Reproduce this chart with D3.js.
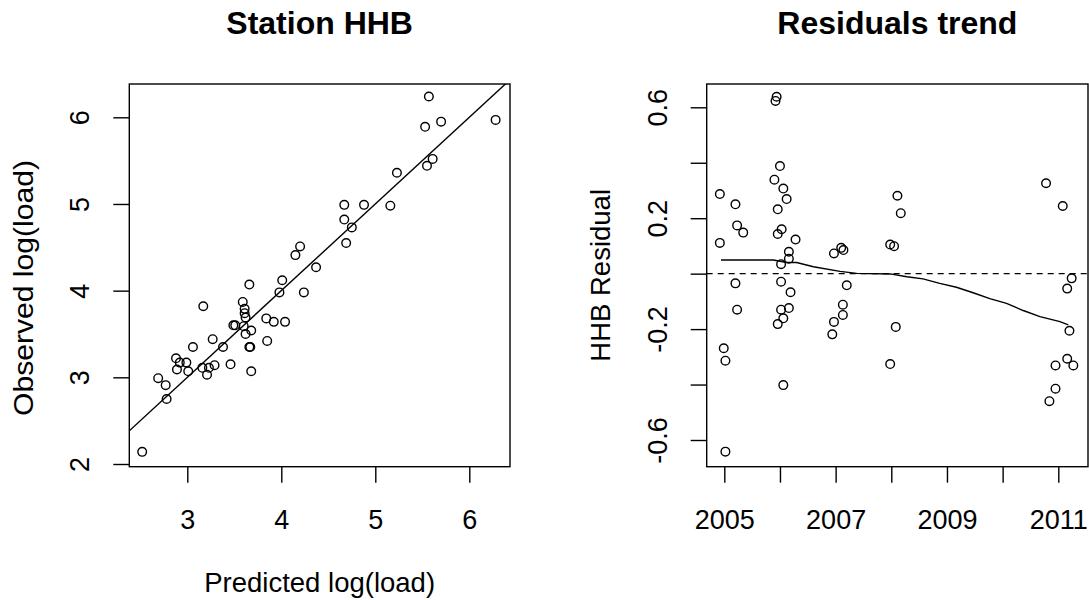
<!DOCTYPE html>
<html>
<head>
<meta charset="utf-8">
<script src="https://cdn.jsdelivr.net/npm/d3@7"></script>
<style>
  body { margin: 0; background: #fff; }
  svg text { font-family: "Liberation Sans", Arial, sans-serif; fill: #000; }
</style>
</head>
<body>
<svg id="chart" width="1089" height="600"></svg>
<script>
// Left panel: predicted vs observed log(load)
const predicted = [2.52, 2.69, 2.77, 2.78, 2.88, 2.92, 2.99, 2.89, 3.01, 3.06,
    3.16, 3.21, 3.23, 3.29, 3.17, 3.27, 3.38, 3.46, 3.49, 3.51,
    3.59, 3.61, 3.61, 3.62, 3.60, 3.62, 3.68, 3.66, 3.67, 3.68,
    3.66, 3.84, 3.92, 4.04, 3.85, 3.98, 4.01, 4.24, 4.15, 4.20,
    4.37, 4.67, 4.67, 4.69, 4.75, 4.88, 5.16, 5.23, 5.55, 5.61,
    5.53, 5.57, 5.70, 6.28];
const observed = [2.14, 2.99, 2.91, 2.75, 3.22, 3.17, 3.17, 3.09, 3.07, 3.35,
    3.11, 3.03, 3.11, 3.14, 3.82, 3.44, 3.35, 3.15, 3.60, 3.60,
    3.87, 3.79, 3.74, 3.69, 3.59, 3.50, 3.54, 3.35, 3.35, 3.07,
    4.07, 3.68, 3.64, 3.64, 3.42, 3.98, 4.12, 3.98, 4.41, 4.51,
    4.27, 4.99, 4.82, 4.55, 4.73, 4.99, 4.98, 5.36, 5.44, 5.52,
    5.89, 6.24, 5.95, 5.97];
const leftTicksX = [3, 4, 5, 6];
const leftTicksY = [2, 3, 4, 5, 6];

// Right panel: residuals by decimal year
const resYear = [2004.92, 2004.92, 2004.99, 2005.02, 2005.02, 2005.20, 2005.23, 2005.34, 2005.20, 2005.23,
    2005.90, 2005.94, 2005.92, 2006.00, 2006.06, 2006.12, 2005.96, 2006.03, 2005.96, 2006.28,
    2006.16, 2006.16, 2006.02, 2006.02, 2006.19, 2006.02, 2006.16, 2006.06, 2005.96, 2006.06,
    2006.97, 2007.10, 2007.14, 2007.20, 2007.13, 2007.13, 2006.97, 2006.94,
    2007.98, 2008.05, 2008.11, 2008.17, 2008.08, 2007.98,
    2010.78, 2011.08, 2011.24, 2011.16, 2011.20, 2011.16, 2011.27, 2010.95, 2010.95, 2010.84];
const resValue = [0.287, 0.111, -0.269, -0.314, -0.642, 0.250, 0.174, 0.148, -0.035, -0.130,
    0.339, 0.638, 0.623, 0.388, 0.307, 0.269, 0.232, 0.160, 0.143, 0.123,
    0.079, 0.054, 0.034, -0.029, -0.067, -0.130, -0.124, -0.161, -0.182, -0.402,
    0.073, 0.093, 0.085, -0.042, -0.112, -0.149, -0.174, -0.219,
    0.105, 0.099, 0.281, 0.218, -0.192, -0.326,
    0.326, 0.244, -0.017, -0.054, -0.206, -0.307, -0.331, -0.331, -0.415, -0.460];
// smooth trend line
const trendYear = [2004.94, 2005.88, 2006.12, 2006.30, 2006.60, 2007.08, 2007.38, 2007.98, 2008.28,
    2008.57, 2008.87, 2009.17, 2009.47, 2009.77, 2010.07, 2010.37, 2010.67, 2011.03, 2011.18];
const trendValue = [0.049, 0.049, 0.040, 0.040, 0.025, 0.008, 0.001, -0.001, -0.011,
    -0.019, -0.035, -0.049, -0.069, -0.090, -0.107, -0.133, -0.155, -0.173, -0.185];
const rightTicksX = [2005, 2006, 2007, 2008, 2009, 2010, 2011];
const rightLabelsX = [2005, 2007, 2009, 2011];
const rightTicksY = [-0.6, -0.4, -0.2, 0, 0.2, 0.4, 0.6];
const rightLabelsY = [-0.6, -0.2, 0.2, 0.6];

const svg = d3.select("#chart");
const lw = 1.4;
const tickFont = "27px";
const pointR = 4.3;

// plot boxes (pixel layout)
const leftBox = { x0: 129.3, x1: 510, y0: 84, y1: 466.7 };
const rightBox = { x0: 706.7, x1: 1088, y0: 84, y1: 466.7 };

// scales
const xL = d3.scaleLinear().domain([3, 6]).range([187.3, 469.3]);
const yL = d3.scaleLinear().domain([6, 2]).range([117.3, 464]);
const xR = d3.scaleLinear().domain([2005, 2011]).range([724.3, 1058.3]);
const yR = d3.scaleLinear().domain([0.6, -0.6]).range([107.3, 440]);

// R prints a plain hyphen for negatives
const fmtInt = d => String(d);
const fmtOne = d => d.toFixed(1);

function drawBox(b, id) {
    svg.append("clipPath").attr("id", id)
        .append("rect")
        .attr("x", b.x0).attr("y", b.y0)
        .attr("width", b.x1 - b.x0).attr("height", b.y1 - b.y0);
    svg.append("rect")
        .attr("x", b.x0).attr("y", b.y0)
        .attr("width", b.x1 - b.x0).attr("height", b.y1 - b.y0)
        .attr("fill", "none")
        .attr("stroke", "#000")
        .attr("stroke-width", lw);
}

function bottomAxis(scale, ticks, labels, b) {
    const g = svg.append("g")
        .attr("transform", `translate(0,${b.y1})`)
        .call(d3.axisBottom(scale)
            .tickValues(ticks)
            .tickSize(16)
            .tickPadding(27)
            .tickFormat(d => labels.includes(d) ? fmtInt(d) : ""));
    g.select(".domain").remove();
    g.selectAll("line").attr("stroke", "#000").attr("stroke-width", lw);
    g.selectAll("text").style("font-size", tickFont).attr("fill", "#000");
}

function leftAxis(scale, ticks, labels, fmt, b) {
    const g = svg.append("g")
        .attr("transform", `translate(${b.x0},0)`)
        .call(d3.axisLeft(scale)
            .tickValues(ticks)
            .tickSize(16)
            .tickFormat(d => labels.some(v => Math.abs(v - d) < 1e-9) ? fmt(d) : ""));
    g.select(".domain").remove();
    g.selectAll("line").attr("stroke", "#000").attr("stroke-width", lw);
    // labels parallel to the axis
    g.selectAll("text")
        .attr("x", 0)
        .attr("y", -40)
        .attr("dy", null)
        .attr("transform", "rotate(-90)")
        .attr("text-anchor", "middle")
        .attr("fill", "#000")
        .style("font-size", tickFont);
}

// ---- left panel ----
drawBox(leftBox, "clipL");
bottomAxis(xL, leftTicksX, leftTicksX, leftBox);
leftAxis(yL, leftTicksY, leftTicksY, fmtInt, leftBox);

svg.append("line")
    .attr("clip-path", "url(#clipL)")
    .attr("x1", xL(2)).attr("y1", yL(2))
    .attr("x2", xL(7)).attr("y2", yL(7))
    .attr("stroke", "#000")
    .attr("stroke-width", lw);

svg.append("g")
    .selectAll("circle")
    .data(predicted.map((p, i) => [p, observed[i]]))
    .enter()
    .append("circle")
    .attr("cx", d => xL(d[0]))
    .attr("cy", d => yL(d[1]))
    .attr("r", pointR)
    .attr("fill", "none")
    .attr("stroke", "#000")
    .attr("stroke-width", lw);

svg.append("text")
    .attr("x", (leftBox.x0 + leftBox.x1) / 2)
    .attr("y", 34)
    .attr("text-anchor", "middle")
    .style("font-size", "32px")
    .style("font-weight", "bold")
    .text("Station HHB");

svg.append("text")
    .attr("x", (leftBox.x0 + leftBox.x1) / 2)
    .attr("y", 592)
    .attr("text-anchor", "middle")
    .style("font-size", "27.5px")
    .text("Predicted log(load)");

// the reference draws this label a little longer than the others
svg.append("text")
    .attr("transform", "translate(32.6,288) rotate(-90)")
    .attr("text-anchor", "middle")
    .attr("textLength", 256)
    .attr("lengthAdjust", "spacingAndGlyphs")
    .style("font-size", "27.5px")
    .text("Observed log(load)");

// ---- right panel ----
drawBox(rightBox, "clipR");
bottomAxis(xR, rightTicksX, rightLabelsX, rightBox);
leftAxis(yR, rightTicksY, rightLabelsY, fmtOne, rightBox);

svg.append("line")
    .attr("clip-path", "url(#clipR)")
    .attr("x1", rightBox.x0).attr("y1", yR(0))
    .attr("x2", rightBox.x1).attr("y2", yR(0))
    .attr("stroke", "#000")
    .attr("stroke-width", lw)
    .attr("stroke-dasharray", "6,5");

const trendLine = d3.line()
    .x(d => xR(d[0]))
    .y(d => yR(d[1]));

svg.append("path")
    .datum(trendYear.map((t, i) => [t, trendValue[i]]))
    .attr("clip-path", "url(#clipR)")
    .attr("d", trendLine)
    .attr("fill", "none")
    .attr("stroke", "#000")
    .attr("stroke-width", lw);

svg.append("g")
    .attr("clip-path", "url(#clipR)")
    .selectAll("circle")
    .data(resYear.map((t, i) => [t, resValue[i]]))
    .enter()
    .append("circle")
    .attr("cx", d => xR(d[0]))
    .attr("cy", d => yR(d[1]))
    .attr("r", pointR)
    .attr("fill", "none")
    .attr("stroke", "#000")
    .attr("stroke-width", lw);

svg.append("text")
    .attr("x", (rightBox.x0 + rightBox.x1) / 2)
    .attr("y", 34)
    .attr("text-anchor", "middle")
    .style("font-size", "32px")
    .style("font-weight", "bold")
    .text("Residuals trend");

svg.append("text")
    .attr("transform", `translate(610,${(rightBox.y0 + rightBox.y1) / 2}) rotate(-90)`)
    .attr("text-anchor", "middle")
    .style("font-size", "27.5px")
    .text("HHB Residual");
</script>
</body>
</html>
